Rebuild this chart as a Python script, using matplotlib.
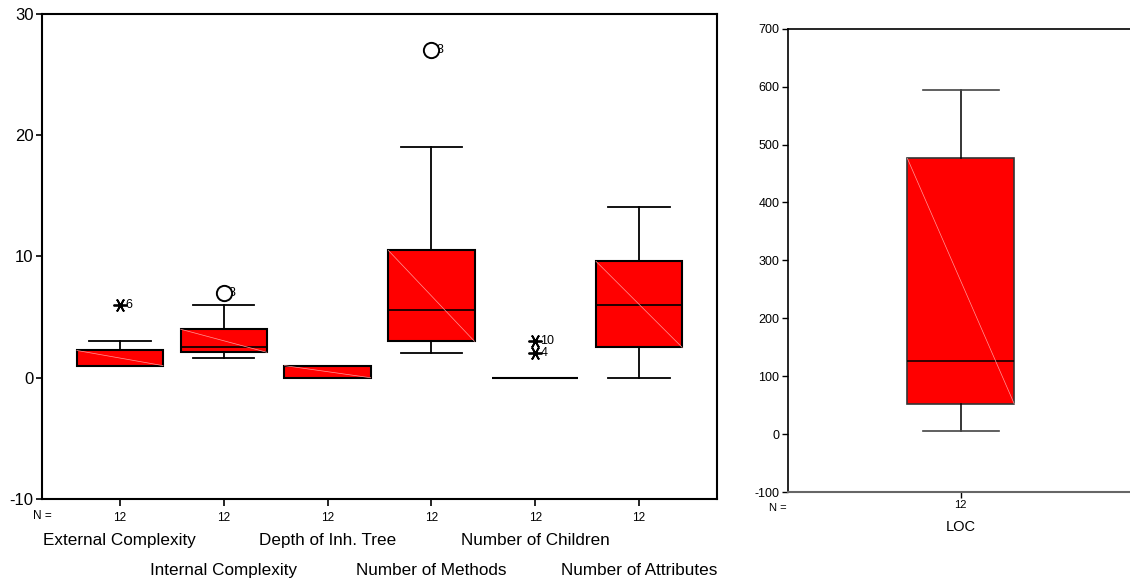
import matplotlib
matplotlib.use("Agg")
import matplotlib.pyplot as plt

plt.rcParams['font.family'] = ['Liberation Sans', 'DejaVu Sans']
plt.rcParams['axes.unicode_minus'] = False

# left panel: six metrics, n = 12 each
names = ["External Complexity", "Internal Complexity", "Depth of Inh. Tree",
         "Number of Methods", "Number of Children", "Number of Attributes"]
n_obs = [12, 12, 12, 12, 12, 12]
q1 = [1.0, 2.1, 0.0, 3.0, 0.0, 2.5]
med = [1.0, 2.5, 1.0, 5.6, 0.0, 6.0]
q3 = [2.25, 4.0, 1.0, 10.5, 0.0, 9.6]
whislo = [1.0, 1.6, 0.0, 2.0, 0.0, 0.0]
whishi = [3.0, 6.0, 1.0, 19.0, 0.0, 14.1]

# outliers: (category index, value, case label)
extremes = [(1, 6.0, "6"), (5, 3.0, "10"), (5, 2.0, "4")]
outliers = [(2, 7.0, "8"), (4, 27.0, "3")]

# right panel: LOC
loc_n = 12
loc_stats = dict(q1=52, med=126, q3=476, whislo=5, whishi=594)

RED = "#ff0000"

fig = plt.figure(figsize=(11.3, 5.82), dpi=100)
ax = fig.add_axes([0.0372, 0.1426, 0.5973, 0.8334])
ax2 = fig.add_axes([0.697, 0.1546, 0.303, 0.7961])

pos = list(range(1, len(names) + 1))
stats = []
for i in range(len(names)):
    stats.append(dict(q1=q1[i], med=med[i], q3=q3[i], whislo=whislo[i],
                      whishi=whishi[i], fliers=[]))

bw = 0.83
ax.bxp(stats, positions=pos, widths=bw, capwidths=0.59, patch_artist=True,
       showfliers=False,
       boxprops=dict(facecolor=RED, edgecolor="black", linewidth=1.5),
       medianprops=dict(color="black", linewidth=1.2),
       whiskerprops=dict(color="black", linewidth=1.3),
       capprops=dict(color="black", linewidth=1.3))

# faint diagonal shading seam inside each box
for i, p in enumerate(pos):
    if q3[i] > q1[i]:
        ax.plot([p - bw / 2, p + bw / 2], [q3[i], q1[i]], color="#ff9a9a",
                lw=0.5, zorder=3)

for c, v, lab in extremes:
    ax.plot(c, v, marker=(6, 2, 90), ms=10, mew=1.3, color="black",
            linestyle="none", zorder=4)
    ax.text(c + 0.05, v, lab, fontsize=9, va="center", ha="left")
for c, v, lab in outliers:
    ax.plot(c, v, marker="o", ms=11, mfc="white", mec="black", mew=1.4,
            linestyle="none", zorder=4)
    ax.text(c + 0.05, v, lab, fontsize=9, va="center", ha="left")

ax.set_xlim(0.25, 6.75)
ax.set_ylim(-10, 30)
ax.set_yticks([-10, 0, 10, 20, 30])
ax.set_xticks(pos)
ax.set_xticklabels([str(n) for n in n_obs], fontsize=8.5)
ax.tick_params(axis="y", labelsize=12, length=4, width=1.2, pad=2)
ax.tick_params(axis="x", length=5, width=1.2, pad=4)
for s in ax.spines.values():
    s.set_linewidth(1.5)

ax.annotate("N =", xy=(0, 0), xycoords="axes fraction", xytext=(0, -17),
            textcoords="offset pixels", ha="center", va="center", fontsize=8.5)
for i, p in enumerate(pos):
    off = -41 if i % 2 == 0 else -71
    ax.annotate(names[i], xy=(p, 0), xycoords=("data", "axes fraction"),
                xytext=(0, off), textcoords="offset pixels",
                ha="center", va="center", fontsize=12.3)

# right panel
lw2 = 0.316
ax2.bxp([dict(fliers=[], **loc_stats)], positions=[1], widths=lw2,
        capwidths=0.225, patch_artist=True, showfliers=False,
        boxprops=dict(facecolor=RED, edgecolor="#333333", linewidth=1.2),
        medianprops=dict(color="black", linewidth=1.1),
        whiskerprops=dict(color="black", linewidth=1.1),
        capprops=dict(color="#444444", linewidth=1.2))
ax2.plot([1 - lw2 / 2, 1 + lw2 / 2], [loc_stats["q3"], loc_stats["q1"]],
         color="#ff9a9a", lw=0.5, zorder=3)
ax2.set_xlim(0.488, 1.5)
ax2.set_ylim(-100, 700)
ax2.set_yticks(range(-100, 701, 100))
ax2.set_xticks([1])
ax2.set_xticklabels([str(loc_n)], fontsize=8)
ax2.tick_params(axis="y", labelsize=9, length=4, width=1, pad=2)
ax2.tick_params(axis="x", length=4, width=1, pad=2)
ax2.spines["right"].set_visible(False)
ax2.spines["bottom"].set_color("#666666")
ax2.spines["bottom"].set_linewidth(1.5)
for k in ("top", "left"):
    ax2.spines[k].set_linewidth(1.2)
ax2.annotate("N =", xy=(0, 0), xycoords="axes fraction", xytext=(-10, -16),
             textcoords="offset pixels", ha="center", va="center", fontsize=8)
ax2.annotate("LOC", xy=(1, 0), xycoords=("data", "axes fraction"),
             xytext=(0, -35), textcoords="offset pixels",
             ha="center", va="center", fontsize=10.5)

fig.savefig("out.png", dpi=100)
